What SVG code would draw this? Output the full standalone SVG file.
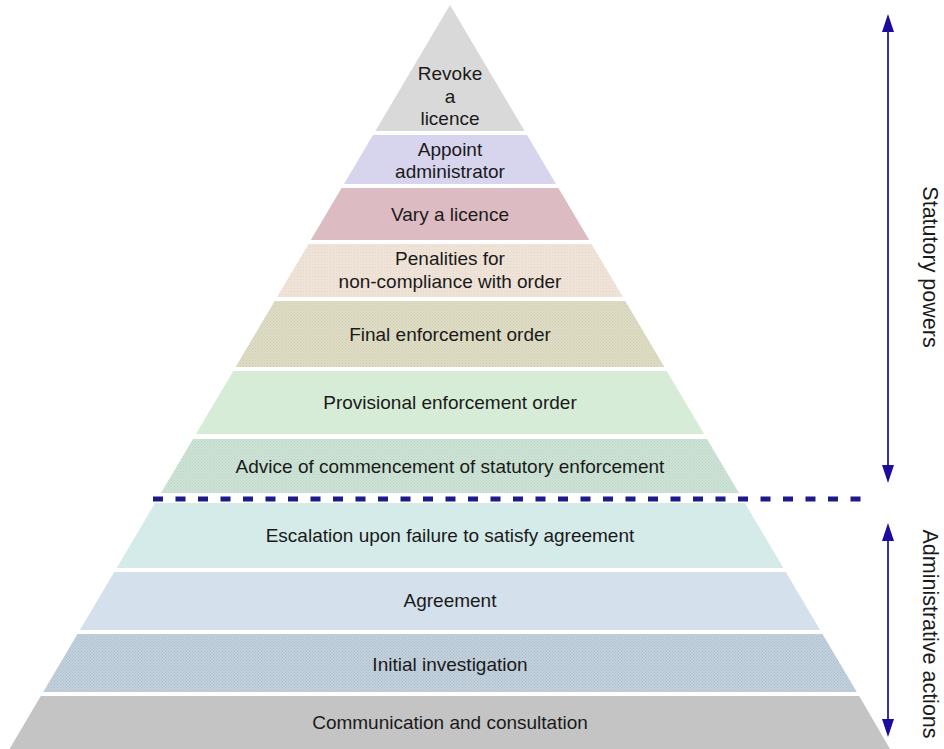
<svg xmlns="http://www.w3.org/2000/svg" width="944" height="749" viewBox="0 0 944 749">
<style>
.lbl{font-family:"Liberation Sans",Arial,sans-serif;font-size:19px;fill:#1a1a1a;text-anchor:middle}
.side{font-family:"Liberation Sans",Arial,sans-serif;font-size:21.5px;fill:#1a1a1a;text-anchor:middle}
.arr{stroke:#3a2fb0;stroke-width:2;fill:none}
</style>
<defs>
<pattern id="pFinal" width="3" height="3" patternUnits="userSpaceOnUse"><rect width="3" height="3" fill="#dedcc4"/><rect width="1" height="1" fill="#cfcdb0"/><rect x="1.5" y="1.5" width="1" height="1" fill="#cfcdb0"/></pattern>
<pattern id="pAdvice" width="3" height="3" patternUnits="userSpaceOnUse"><rect width="3" height="3" fill="#cde3d6"/><rect width="1" height="1" fill="#b9d3c3"/><rect x="1.5" y="1.5" width="1" height="1" fill="#b9d3c3"/></pattern>
<pattern id="pInit" width="3" height="3" patternUnits="userSpaceOnUse"><rect width="3" height="3" fill="#c3d1dd"/><rect width="1" height="1" fill="#a9bccc"/><rect x="1.5" y="1.5" width="1" height="1" fill="#a9bccc"/></pattern>
<pattern id="pPen" width="3" height="3" patternUnits="userSpaceOnUse"><rect width="3" height="3" fill="#efe3d8"/><rect width="1" height="1" fill="#e4d6c8"/></pattern>
<marker id="head" viewBox="0 0 18 12" refX="2" refY="6" markerWidth="18" markerHeight="12" markerUnits="userSpaceOnUse" orient="auto-start-reverse"><path d="M0,0 L18,6 L0,12 Z" fill="#1c0b9c"/></marker>
</defs>
<g id="layer-revoke"><polygon points="450,5 524.6,131 375.4,131" fill="#d9d9d9"/>
<text class="lbl" x="450" y="80">Revoke</text><text class="lbl" x="450" y="103">a</text><text class="lbl" x="450" y="125">licence</text></g>
<g id="layer-appoint"><polygon points="373,135 527,135 556,184 344,184" fill="#d7d4ee"/>
<text class="lbl" x="450" y="156">Appoint</text><text class="lbl" x="450" y="178">administrator</text></g>
<g id="layer-vary"><polygon points="341.6,188 558.4,188 589.2,240 310.8,240" fill="#dcbcc2"/>
<text class="lbl" x="450" y="221">Vary a licence</text></g>
<g id="layer-penalities"><polygon points="308.5,244 591.5,244 622.9,297 277.1,297" fill="url(#pPen)"/>
<text class="lbl" x="450" y="265">Penalities for</text><text class="lbl" x="450" y="288">non-compliance with order</text></g>
<g id="layer-final"><polygon points="274.7,301 625.3,301 664.4,367 235.6,367" fill="url(#pFinal)"/>
<text class="lbl" x="450" y="341">Final enforcement order</text></g>
<g id="layer-provisional"><polygon points="233.3,371 666.7,371 704.1,434 195.9,434" fill="#d6ecd7"/>
<text class="lbl" x="450" y="409">Provisional enforcement order</text></g>
<g id="layer-advice"><polygon points="193,439 707,439 739,493 161,493" fill="url(#pAdvice)"/>
<text class="lbl" x="450" y="473">Advice of commencement of statutory enforcement</text></g>
<g id="layer-escalation"><polygon points="155.1,503 744.9,503 783.4,568 116.6,568" fill="#d5ebe9"/>
<text class="lbl" x="450" y="542">Escalation upon failure to satisfy agreement</text></g>
<g id="layer-agreement"><polygon points="114.2,572 785.8,572 820.1,630 79.9,630" fill="#d4e1ec"/>
<text class="lbl" x="450" y="607">Agreement</text></g>
<g id="layer-initial"><polygon points="77.5,634 822.5,634 856.8,692 43.2,692" fill="url(#pInit)"/>
<text class="lbl" x="450" y="671">Initial investigation</text></g>
<g id="layer-communication"><polygon points="40.8,696 859.2,696 890,749 9.5,749" fill="#c4c4c4"/>
<text class="lbl" x="450" y="729">Communication and consultation</text></g>
<g id="connectors">
<line x1="153" y1="499" x2="872" y2="499" stroke="#1f1a8a" stroke-width="5" stroke-dasharray="10 12.5"/>
<line class="arr" x1="888" y1="30" x2="888" y2="467" marker-start="url(#head)" marker-end="url(#head)"/>
<line class="arr" x1="888" y1="539" x2="888" y2="721" marker-start="url(#head)" marker-end="url(#head)"/>
</g>
<g id="labels">
<text class="side" transform="translate(923,267) rotate(90)">Statutory powers</text>
<text class="side" transform="translate(923,634) rotate(90)">Administrative actions</text>
</g>
</svg>
